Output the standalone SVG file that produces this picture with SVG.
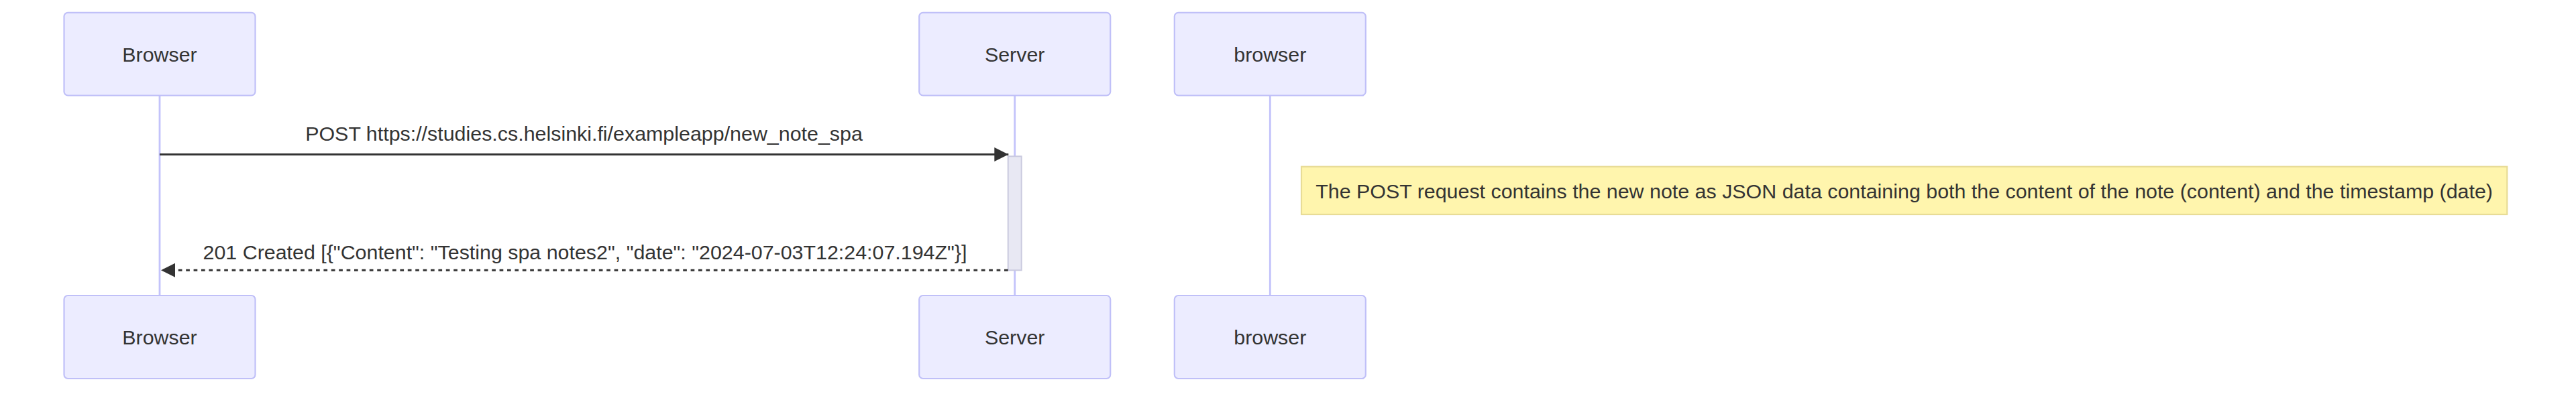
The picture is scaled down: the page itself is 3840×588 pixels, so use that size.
<svg xmlns="http://www.w3.org/2000/svg" width="3840" height="588" viewBox="0 0 3840 588">
  <style>
    .actor rect { fill: #ececff; stroke: #c0c0f8; stroke-width: 2.2; }
    .actor text { font-family: "Liberation Sans", Arial, sans-serif; font-size: 30.4px; fill: #333333; text-anchor: middle; dominant-baseline: central; }
    .lifeline { stroke: #c3c3fb; stroke-width: 2.8; fill: none; }
    .msg { stroke: #333333; stroke-width: 2.9; fill: none; }
    .dashed { stroke-dasharray: 5.7 5.7; }
    .msgtext { font-family: "Liberation Sans", Arial, sans-serif; font-size: 30.4px; fill: #333333; text-anchor: middle; }
    .activation { fill: #e8e8f3; stroke: #cacadf; stroke-width: 2; }
    .note rect { fill: #fff5ad; stroke: #e8dc96; stroke-width: 2.2; }
    .note text { font-family: "Liberation Sans", Arial, sans-serif; font-size: 30.4px; fill: #333333; text-anchor: middle; dominant-baseline: central; }
  </style>
  <defs>
    <marker id="arrowhead" markerUnits="userSpaceOnUse" markerWidth="22" markerHeight="22" refX="21" refY="10.5" orient="auto">
      <path d="M0,0 L21,10.5 L0,21 z" fill="#333333"/>
    </marker>
  </defs>

  <g id="lifelines">
    <line class="lifeline" x1="238" y1="143" x2="238" y2="441"/>
    <line class="lifeline" x1="1512.7" y1="143" x2="1512.7" y2="441"/>
    <line class="lifeline" x1="1893.3" y1="143" x2="1893.3" y2="441"/>
  </g>

  <g id="actor-browser-top" class="actor">
    <rect x="95.5" y="18.9" width="285" height="123.6" rx="5.7" ry="5.7"/>
    <text x="238" y="81">Browser</text>
  </g>
  <g id="actor-server-top" class="actor">
    <rect x="1370.2" y="18.9" width="285" height="123.6" rx="5.7" ry="5.7"/>
    <text x="1512.7" y="81">Server</text>
  </g>
  <g id="actor-browser2-top" class="actor">
    <rect x="1750.8" y="18.9" width="285" height="123.6" rx="5.7" ry="5.7"/>
    <text x="1893.3" y="81">browser</text>
  </g>

  <g id="activation-server">
    <rect class="activation" x="1502.7" y="233.3" width="20" height="170"/>
  </g>

  <g id="note" class="note">
    <rect x="1940" y="248.7" width="1797.3" height="71.3"/>
    <text x="2838.6" y="285">The POST request contains the new note as JSON data containing both the content of the note (content) and the timestamp (date)</text>
  </g>

  <g id="connectors">
    <text class="msgtext" x="870.5" y="210">POST https://studies.cs.helsinki.fi/exampleapp/new_note_spa</text>
    <line class="msg" x1="238" y1="230.5" x2="1503.3" y2="230.5" marker-end="url(#arrowhead)"/>
    <text class="msgtext" x="872" y="387">201 Created [{"Content": "Testing spa notes2", "date": "2024-07-03T12:24:07.194Z"}]</text>
    <line class="msg dashed" x1="1502.7" y1="403.3" x2="240" y2="403.3" marker-end="url(#arrowhead)"/>
  </g>

  <g id="actor-browser-bottom" class="actor">
    <rect x="95.5" y="441" width="285" height="124" rx="5.7" ry="5.7"/>
    <text x="238" y="503">Browser</text>
  </g>
  <g id="actor-server-bottom" class="actor">
    <rect x="1370.2" y="441" width="285" height="124" rx="5.7" ry="5.7"/>
    <text x="1512.7" y="503">Server</text>
  </g>
  <g id="actor-browser2-bottom" class="actor">
    <rect x="1750.8" y="441" width="285" height="124" rx="5.7" ry="5.7"/>
    <text x="1893.3" y="503">browser</text>
  </g>
</svg>
